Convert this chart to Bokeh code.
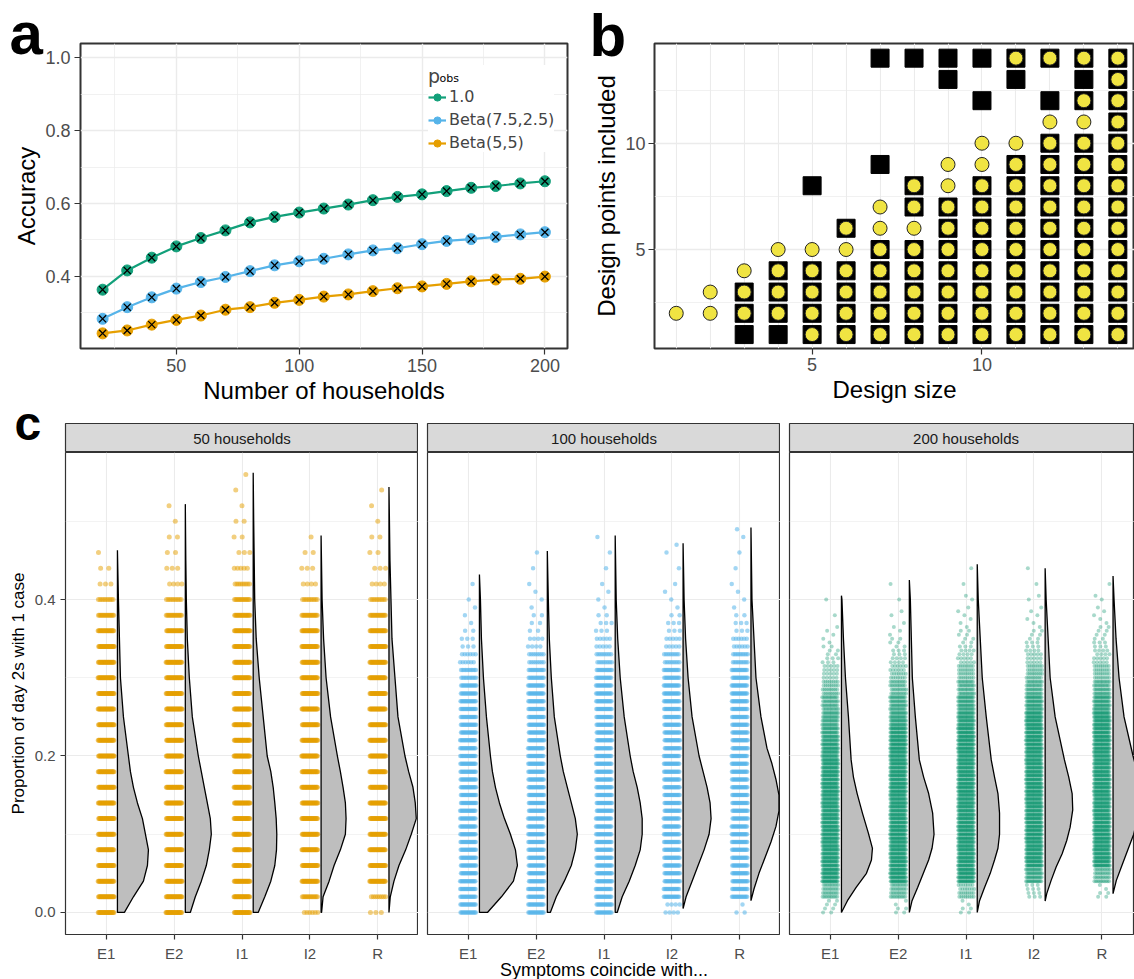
import numpy as np
from bokeh.plotting import figure
from bokeh.layouts import column, row
from bokeh.models import (Legend, LegendItem, FixedTicker, Range1d, NumeralTickFormatter, GridBox)
from bokeh.embed import file_html
from bokeh.resources import INLINE
from bokeh.core.properties import value

FONT = "Liberation Sans"
LEG_FONT = "DejaVu Sans"
GREEN = "#07936A"
BLUE = "#56B4E9"
ORANGE = "#E69F00"
YELLOW = "#F0E442"
GRID = "#EBEBEB"
BORDER = "#333333"

# ---------------- Panel a data ----------------
households = [20, 30, 40, 50, 60, 70, 80, 90, 100, 110, 120, 130, 140, 150, 160, 170, 180, 190, 200]
accuracy_pobs_1 = [0.363, 0.416, 0.451, 0.482, 0.505, 0.526, 0.548, 0.563, 0.575, 0.586,
                   0.597, 0.609, 0.618, 0.625, 0.634, 0.643, 0.648, 0.655, 0.661]
accuracy_beta_75_25 = [0.283, 0.315, 0.342, 0.366, 0.384, 0.398, 0.414, 0.430, 0.441, 0.448,
                       0.460, 0.471, 0.477, 0.488, 0.497, 0.502, 0.508, 0.515, 0.521]
accuracy_beta_5_5 = [0.243, 0.251, 0.267, 0.280, 0.292, 0.308, 0.315, 0.327, 0.335, 0.344,
                     0.350, 0.359, 0.367, 0.372, 0.379, 0.386, 0.391, 0.393, 0.399]
legend_labels = ["1.0", "Beta(7.5,2.5)", "Beta(5,5)"]

# ---------------- Panel b data ----------------
design_size = list(range(1, 15))
square_points = [
    [], [], [1, 2, 3], [1, 2, 3, 4], [1, 2, 3, 4, 8], [1, 2, 3, 4, 6],
    [1, 2, 3, 4, 5, 9, 14], [1, 2, 3, 4, 5, 7, 8, 14], [1, 2, 3, 4, 5, 6, 7, 13, 14],
    [1, 2, 3, 4, 5, 6, 7, 8, 12, 14], [1, 2, 3, 4, 5, 6, 7, 8, 9, 13, 14],
    [1, 2, 3, 4, 5, 6, 7, 8, 9, 10, 12, 14], [1, 2, 3, 4, 5, 6, 7, 8, 9, 10, 12, 13, 14],
    [1, 2, 3, 4, 5, 6, 7, 8, 9, 10, 11, 12, 13, 14]]
circle_points = [
    [2], [2, 3], [2, 3, 4], [2, 3, 4, 5], [1, 2, 3, 4, 5], [1, 2, 3, 4, 5, 6],
    [1, 2, 3, 4, 5, 6, 7], [1, 2, 3, 4, 5, 6, 7, 8], [1, 2, 3, 4, 5, 6, 7, 8, 9],
    [1, 2, 3, 4, 5, 6, 7, 8, 9, 10], [1, 2, 3, 4, 5, 6, 7, 8, 9, 10, 14],
    [1, 2, 3, 4, 5, 6, 7, 8, 9, 10, 11, 14], [1, 2, 3, 4, 5, 6, 7, 8, 9, 10, 11, 12, 14],
    [1, 2, 3, 4, 5, 6, 7, 8, 9, 10, 11, 12, 13, 14]]

# ---------------- Panel c data ----------------
categories = ["E1", "E2", "I1", "I2", "R"]
facet_titles = ["50 households", "100 households", "200 households"]
level_step = [0.02, 0.01, 0.005]
# simulated counts per 0.02-wide band (band start = 0, 0.02, ..., 0.56)
counts_50 = {
    "E1": [60, 150, 250, 290, 300, 270, 240, 200, 160, 130, 110, 90, 75, 62, 50, 40, 34, 28, 22, 16, 10, 3, 2, 1, 0, 0, 0, 0, 0],
    "E2": [40, 100, 160, 210, 240, 260, 250, 220, 190, 160, 130, 100, 80, 65, 52, 42, 34, 28, 22, 16, 10, 4, 3, 2, 2, 1, 1, 0, 0],
    "I1": [40, 110, 170, 210, 230, 235, 230, 220, 200, 175, 150, 120, 95, 78, 62, 50, 40, 32, 26, 20, 14, 9, 5, 3, 2, 2, 1, 1, 1],
    "I2": [6, 14, 80, 130, 190, 240, 250, 240, 220, 190, 160, 125, 95, 75, 60, 48, 38, 30, 24, 17, 10, 4, 3, 2, 1, 0, 0, 0, 0],
    "R":  [3, 8, 40, 100, 170, 230, 270, 260, 240, 200, 160, 120, 95, 75, 60, 48, 38, 30, 24, 17, 10, 4, 3, 2, 2, 1, 1, 1, 0],
}
counts_100 = {
    "E1": [90, 230, 330, 340, 300, 240, 190, 150, 115, 90, 70, 56, 46, 38, 30, 22, 12, 6, 3, 2, 1, 1, 0, 0, 0, 0, 0, 0, 0],
    "E2": [40, 130, 230, 290, 310, 280, 240, 190, 150, 115, 85, 66, 52, 42, 34, 26, 16, 8, 4, 3, 2, 1, 1, 1, 0, 0, 0, 0, 0],
    "I1": [30, 110, 200, 260, 285, 280, 255, 220, 180, 140, 105, 80, 62, 48, 38, 28, 18, 10, 6, 3, 2, 1, 1, 1, 1, 0, 0, 0, 0],
    "I2": [8, 50, 130, 210, 265, 290, 280, 250, 205, 160, 120, 90, 66, 50, 38, 28, 18, 10, 6, 3, 2, 1, 1, 2, 0, 0, 0, 0, 0],
    "R":  [3, 30, 100, 180, 250, 290, 295, 270, 230, 180, 135, 100, 72, 54, 40, 30, 20, 12, 6, 3, 2, 1, 1, 1, 2, 0, 0, 0, 0],
}
counts_200 = {
    "E1": [8, 40, 300, 390, 370, 300, 230, 170, 125, 95, 80, 70, 60, 48, 34, 20, 10, 5, 2, 1, 1, 0, 0, 0, 0, 0, 0, 0, 0],
    "E2": [6, 40, 230, 330, 370, 350, 300, 240, 185, 140, 105, 85, 70, 56, 40, 26, 14, 7, 3, 2, 1, 1, 0, 0, 0, 0, 0, 0, 0],
    "I1": [6, 30, 180, 280, 330, 340, 320, 280, 230, 180, 135, 100, 80, 64, 48, 32, 18, 9, 5, 3, 2, 1, 1, 0, 0, 0, 0, 0, 0],
    "I2": [0, 12, 60, 190, 270, 320, 330, 310, 270, 220, 165, 120, 88, 68, 50, 34, 19, 10, 5, 3, 2, 1, 1, 0, 0, 0, 0, 0, 0],
    "R":  [0, 6, 40, 150, 240, 300, 330, 320, 285, 235, 180, 130, 92, 68, 50, 32, 18, 10, 6, 3, 2, 1, 0, 0, 0, 0, 0, 0, 0],
}
# half-violin densities: (proportion values, density widths)
dens_50 = {
    "E1": ([0, .02, .04, .06, .08, .10, .12, .14, .16, .18, .20, .25, .30, .35, .40, .463],
           [7, 16, 26, 30, 31, 28, 25, 20, 16, 13, 11, 6, 3, 2, 1, 0]),
    "E2": ([0, .02, .04, .06, .08, .10, .12, .14, .16, .18, .20, .25, .30, .35, .40, .45, .522],
           [5, 10, 16, 21, 24, 26, 25, 22, 19, 16, 13, 7, 4, 2, 1, 0.5, 0]),
    "I1": ([0, .02, .04, .06, .08, .10, .12, .14, .16, .18, .20, .25, .30, .35, .40, .50, .562],
           [5, 11.6, 17.6, 21.6, 23.3, 23.6, 23, 21.6, 20, 17.6, 14, 10, 6, 3, 1.5, 0.5, 0]),
    "I2": ([0, .02, .04, .06, .08, .10, .12, .14, .16, .18, .20, .25, .30, .35, .40, .482],
           [0.5, 2, 8, 13, 19.3, 24.3, 25, 24.3, 22, 19.3, 16.3, 9.5, 5, 2.5, 1, 0]),
    "R":  ([0, .02, .04, .06, .08, .10, .12, .14, .16, .18, .20, .25, .30, .35, .40, .45, .544],
           [0, 1.3, 5, 10, 16.7, 22.3, 27.3, 26.3, 24, 19.7, 16, 9, 6, 3, 2, 1, 0]),
}
dens_100 = {
    "E1": ([0, .02, .04, .06, .08, .10, .12, .14, .16, .18, .20, .25, .30, .35, .40, .432],
           [8, 22, 34, 38, 36, 31, 25, 20, 16, 13, 11, 7, 4, 2, 1, 0]),
    "E2": ([0, .02, .04, .06, .08, .10, .12, .14, .16, .18, .20, .25, .30, .35, .40, .462],
           [3, 9, 17, 24, 28, 30, 28, 24, 20, 16, 13, 7, 4, 2, 1, 0]),
    "I1": ([0, .02, .04, .06, .08, .10, .12, .14, .16, .18, .20, .25, .30, .35, .40, .482],
           [2, 7, 14, 20, 25, 27, 27, 25, 22, 18, 15, 9, 5, 2.5, 1, 0]),
    "I2": ([.005, .02, .04, .06, .08, .10, .12, .14, .16, .18, .20, .25, .30, .35, .40, .472],
           [0, 3, 9, 15, 21, 26, 28, 27, 24, 20, 16, 9, 5, 2.5, 1, 0]),
    "R":  ([.015, .03, .05, .07, .09, .11, .13, .15, .17, .19, .21, .25, .30, .35, .40, .492],
           [0, 3, 8, 14, 20, 25, 28, 28, 25, 21, 16, 10, 5, 3, 1, 0]),
}
dens_200 = {
    "E1": ([0, .015, .032, .05, .067, .082, .101, .127, .152, .173, .195, .25, .30, .35, .40, .405],
           [0, 6, 14.7, 25, 30, 31, 27, 21, 15.7, 12, 9.7, 7, 4, 2, 0.5, 0]),
    "E2": ([0, .015, .032, .05, .067, .082, .10, .127, .152, .173, .195, .25, .30, .35, .40, .425],
           [0, 2.7, 8.3, 14, 19.3, 22.7, 24.7, 23.3, 19.3, 14.3, 10, 6, 3, 2, 1, 0]),
    "I1": ([0, .015, .032, .05, .067, .082, .10, .127, .152, .173, .195, .25, .30, .35, .40, .445],
           [0, 2.3, 7.3, 13, 17.3, 20.7, 22.3, 22.3, 20.7, 17.3, 14, 9, 5, 3, 1, 0]),
    "I2": ([.0145, .024, .041, .058, .075, .092, .109, .131, .152, .173, .195, .25, .30, .35, .40, .44],
           [0, 1.6, 6, 11, 17, 21.6, 25, 27.6, 27, 23.6, 19.3, 10, 5, 3, 1, 0]),
    "R":  ([.024, .041, .058, .075, .092, .10, .125, .15, .175, .20, .25, .30, .35, .40, .43],
           [0, 3.3, 8.3, 13.3, 18.3, 20.7, 25, 27, 25, 20, 11, 6, 3, 1, 0]),
}
panel_letters = ["a", "b", "c"]
x_title_c = "Symptoms coincide with..."

# ---------------- helpers ----------------
def new_fig(**kw):
    p = figure(output_backend="svg", toolbar_location=None, **kw)
    p.background_fill_color = "white"
    p.border_fill_color = "white"
    return p


def style_axes(p, tick_px, label_px, tick_out=5, standoff=4, label_standoff=3):
    for ax in p.axis:
        ax.axis_line_color = None
        ax.major_tick_line_color = BORDER
        ax.major_tick_line_width = 1.2
        ax.major_tick_out = tick_out
        ax.major_tick_in = 0
        ax.minor_tick_line_color = None
        ax.major_label_standoff = standoff
        ax.major_label_text_font = FONT
        ax.major_label_text_font_size = tick_px
        ax.major_label_text_color = "#4D4D4D"
        ax.axis_label_text_font = FONT
        ax.axis_label_text_font_size = label_px
        ax.axis_label_text_font_style = "normal"
        ax.axis_label_text_color = "black"
        ax.axis_label_standoff = label_standoff


def style_grid(p, major_w, minor_w):
    for g in p.grid:
        g.grid_line_color = GRID
        g.grid_line_width = major_w
        g.minor_grid_line_color = GRID
        g.minor_grid_line_width = minor_w

# ---------------- Panel a ----------------
pa = new_fig(width=590, height=408, x_range=Range1d(11.0, 209.2), y_range=Range1d(0.2014, 1.0396),
             min_border_left=80, min_border_right=23, min_border_top=43, min_border_bottom=60)
pa.outline_line_color = BORDER
pa.outline_line_width = 2
tx = FixedTicker(ticks=[50, 100, 150, 200], minor_ticks=[25, 75, 125, 175])
ty = FixedTicker(ticks=[0.4, 0.6, 0.8, 1.0], minor_ticks=[0.3, 0.5, 0.7, 0.9])
pa.xaxis.ticker = tx
pa.yaxis.ticker = ty
pa.xgrid.ticker = tx
pa.ygrid.ticker = ty
pa.yaxis.formatter = NumeralTickFormatter(format="0.0")
pa.xaxis.axis_label = "Number of households"
pa.yaxis.axis_label = "Accuracy"
style_axes(pa, "18px", "24px", tick_out=6, standoff=4, label_standoff=2)
style_grid(pa, 1.4, 0.7)

series = [(accuracy_pobs_1, GREEN), (accuracy_beta_75_25, BLUE), (accuracy_beta_5_5, ORANGE)]
series_colors = ["#12A07A", BLUE, ORANGE]
items = []
for (vals, _), col, lab in zip(series, series_colors, legend_labels):
    rl = pa.line(households, vals, line_color=col, line_width=2.2)
    rs = pa.scatter(households, vals, size=11, fill_color=col, line_color=col)
    items.append(LegendItem(label=lab, renderers=[rl, rs]))
for vals, _ in series:
    pa.scatter(households, vals, marker="x", size=10, line_color="black", line_width=1.3)

leg = Legend(items=items, location=(348, 196), title="p")
leg.title_text_font = LEG_FONT
leg.title_text_font_size = "19px"
leg.title_text_font_style = "normal"
leg.title_standoff = 0
leg.label_text_font = LEG_FONT
leg.label_text_font_size = "16px"
leg.label_standoff = 3
leg.glyph_width = 18
leg.glyph_height = 18
leg.label_height = 18
leg.spacing = 4
leg.padding = 6
leg.margin = 0
leg.border_line_color = None
leg.background_fill_color = "white"
leg.background_fill_alpha = 1.0
pa.add_layout(leg)

# ---------------- Panel b ----------------
pb = new_fig(width=544, height=408, x_range=Range1d(0.36, 14.49), y_range=Range1d(0.345, 14.69),
             min_border_left=59, min_border_right=0, min_border_top=43, min_border_bottom=60)
pb.outline_line_color = BORDER
pb.outline_line_width = 2
bx = FixedTicker(ticks=[5, 10], minor_ticks=[1, 2, 3, 4, 6, 7, 8, 9, 11, 12, 13, 14])
by = FixedTicker(ticks=[5, 10], minor_ticks=[2.5, 7.5, 12.5])
pb.xaxis.ticker = bx
pb.yaxis.ticker = by
pb.xgrid.ticker = bx
pb.ygrid.ticker = by
pb.xaxis.axis_label = "Design size"
pb.yaxis.axis_label = "Design points included"
style_axes(pb, "18px", "24px", tick_out=6, standoff=3, label_standoff=2)
style_grid(pb, 1.4, 0.7)
pb.xgrid.minor_grid_line_width = 1.1
pb.xgrid.grid_line_width = 1.1

sq_x = [s for s, pts in zip(design_size, square_points) for _ in pts]
sq_y = [v for pts in square_points for v in pts]
ci_x = [s for s, pts in zip(design_size, circle_points) for _ in pts]
ci_y = [v for pts in circle_points for v in pts]
pb.scatter(sq_x, sq_y, marker="square", size=18, fill_color="black", line_color="black")
pb.scatter(ci_x, ci_y, marker="circle", size=14, fill_color=YELLOW, line_color="#222222", line_width=1)

# ---------------- Panel c ----------------
PX_PER_UNIT = 67.9
JIT = 0.12
fig_w = [418, 362, 354]
fig_ml = [65, 9, 9]
x_max = [5.6, 5.6, 0.4 + 345 / PX_PER_UNIT]
colors = [ORANGE, BLUE, GREEN]
dot_size = [5.0, 4.5, 4.0]
dot_alpha = [0.5, 0.55, 0.35]
caps = [25, 16, 22]
all_counts = [counts_50, counts_100, counts_200]
all_dens = [dens_50, dens_100, dens_200]


def cloud(counts, step, center, cap):
    sub = int(round(0.02 / step))
    xs, ys = [], []
    for b, c in enumerate(counts):
        base_n, rem = divmod(c, sub)
        for j in range(sub):
            n = min(base_n + (1 if j < rem else 0), cap)
            lvl = b * sub + j
            yv = b * 0.02 + j * step
            for i in range(n):
                u = ((i + 0.5) / n + lvl * 0.618034 + center * 0.31) % 1.0
                xs.append(center + (u - 0.5) * 2 * JIT)
                ys.append(yv)
    return xs, ys


def half_violin(yv, wv, center):
    base = center + 0.165
    px = [base] + [base + w / PX_PER_UNIT for w in wv] + [base]
    py = [yv[0]] + list(yv) + [yv[-1]]
    return px, py


strips, panels = [], []
for k in range(3):
    xr = Range1d(0.4, x_max[k])
    s = new_fig(width=fig_w[k], height=44, x_range=xr, y_range=Range1d(0, 1),
                min_border_left=fig_ml[k], min_border_right=0, min_border_top=15, min_border_bottom=0,
                x_axis_location=None, y_axis_location=None)
    s.background_fill_color = "#D9D9D9"
    s.outline_line_color = BORDER
    s.outline_line_width = 1.2
    for g in s.grid:
        g.grid_line_color = None
    s.text(x=[3.0], y=[0.5], text=[facet_titles[k]], text_align="center", text_baseline="middle",
           text_font=value(FONT), text_font_size="15px", text_color="#1A1A1A")
    strips.append(s)

    c = new_fig(width=fig_w[k], height=527, x_range=xr, y_range=Range1d(-0.0282, 0.588),
                min_border_left=fig_ml[k], min_border_right=0, min_border_top=0, min_border_bottom=45,
                y_axis_location=("left" if k == 0 else None))
    c.outline_line_color = BORDER
    c.outline_line_width = 1.2
    cx = FixedTicker(ticks=[1, 2, 3, 4, 5])
    cy = FixedTicker(ticks=[0.0, 0.2, 0.4], minor_ticks=[0.1, 0.3, 0.5])
    c.xaxis.ticker = cx
    c.xgrid.ticker = cx
    c.ygrid.ticker = cy
    c.xaxis.major_label_overrides = {i + 1: lab for i, lab in enumerate(categories)}
    if k == 0:
        c.yaxis.ticker = cy
        c.yaxis.formatter = NumeralTickFormatter(format="0.0")
        c.yaxis.axis_label = "Proportion of day 2s with 1 case"
    style_axes(c, "15px", "17px", tick_out=5, standoff=5, label_standoff=4)
    style_grid(c, 1.1, 0.6)

    xs_all, ys_all = [], []
    vx, vy = [], []
    for ci, cat in enumerate(categories):
        xs, ys = cloud(all_counts[k][cat], level_step[k], ci + 1, caps[k])
        xs_all += xs
        ys_all += ys
        yv, wv = all_dens[k][cat]
        px, py = half_violin(yv, wv, ci + 1)
        vx.append(px)
        vy.append(py)
    c.scatter(xs_all, ys_all, size=dot_size[k], fill_color=colors[k], line_color=None,
              fill_alpha=dot_alpha[k])
    c.patches(vx, vy, fill_color="#BEBEBE", line_color="black", line_width=1.3)
    panels.append(c)

main = column(row(pa, pb),
              row(column(strips[0], panels[0]), column(strips[1], panels[1]), column(strips[2], panels[2])))

# ---------------- transparent overlay: panel letters, subscript, shared x title ----------------
W, H = 1134, 979
ov = figure(width=W, height=H, x_range=Range1d(0, W), y_range=Range1d(H, 0),
            min_border_left=0, min_border_right=0, min_border_top=0, min_border_bottom=0,
            x_axis_location=None, y_axis_location=None, output_backend="svg", toolbar_location=None)
ov.background_fill_alpha = 0
ov.border_fill_alpha = 0
ov.outline_line_color = None
for g in ov.grid:
    g.grid_line_color = None
ov.text(x=[9, 589], y=[33, 35], text=panel_letters[:2], text_font=value(FONT), text_font_size="60px",
        text_font_style="bold", text_color="black", text_baseline="alphabetic")
ov.text(x=[14], y=[423], text=panel_letters[2:], text_font=value(FONT), text_font_size="48px",
        text_font_style="bold", text_color="black", text_baseline="alphabetic")
ov.text(x=[439], y=[78], text=["obs"], text_font=value(LEG_FONT), text_font_size="11px",
        text_color="black", text_baseline="alphabetic")
ov.text(x=[603.5], y=[969], text=[x_title_c], text_font=value(FONT), text_font_size="18px",
        text_color="black", text_align="center", text_baseline="alphabetic")

layout = GridBox(children=[(main, 0, 0), (ov, 0, 0)])

open("out.html", "w").write(file_html(layout, INLINE))
